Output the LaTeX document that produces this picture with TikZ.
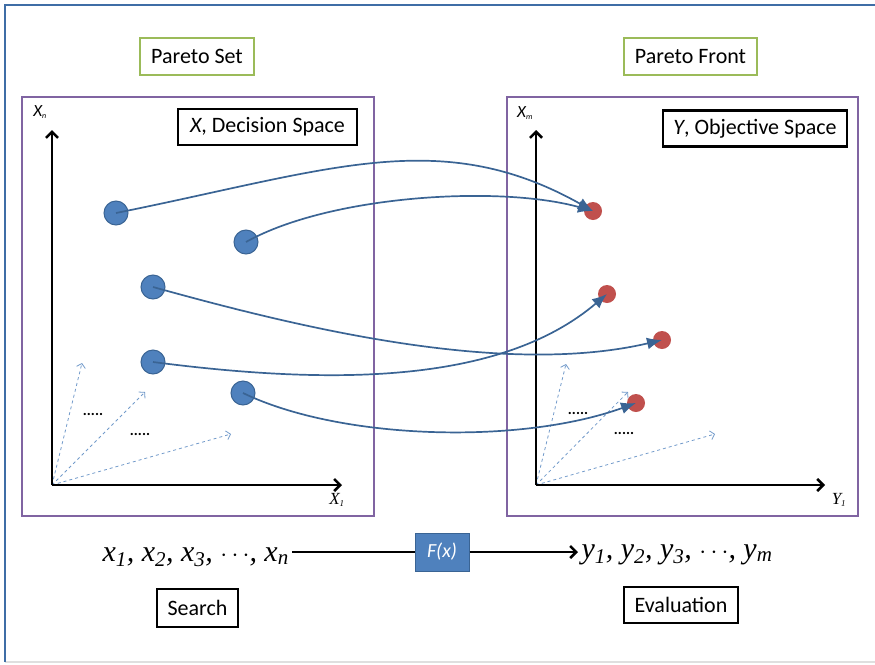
\documentclass[tikz,border=0pt]{standalone}
\usepackage{fontspec}
\setmainfont{Carlito}
\newfontfamily\timesfont{Liberation Serif}
\usetikzlibrary{arrows.meta}
\definecolor{office}{HTML}{4F81BD}
\definecolor{officedark}{HTML}{3A6494}
\definecolor{redpt}{HTML}{C0504D}
\definecolor{purp}{HTML}{8064A2}
\definecolor{grn}{HTML}{9BBB59}
\definecolor{framec}{HTML}{3F6DA6}
\begin{document}
\begin{tikzpicture}[x=1pt,y=-1pt,
  every node/.style={font=\fontsize{22}{26}\selectfont},
  labelbox/.style={draw=grn, line width=1.8pt, minimum height=37pt, inner sep=0pt},
  spacebox/.style={draw=black, line width=2.2pt, minimum height=36pt, inner sep=0pt},
  ptx/.style={circle, fill=office, draw=officedark, line width=1pt, minimum size=24pt, inner sep=0pt},
  pty/.style={circle, fill=redpt, minimum size=18pt, inner sep=0pt},
  axis/.style={line width=2.6pt, -{Straight Barb[length=6pt,width=12pt]}},
  map/.style={officedark, line width=1.7pt, -{Latex[length=15pt,width=12pt]}},
  ray/.style={office!80, dashed, line width=0.8pt, -{Straight Barb[length=4pt,width=9pt]}},
  dots/.style={font=\fontsize{15}{18}\selectfont\bfseries},
  axlabel/.style={font=\fontsize{17}{20}\selectfont\itshape},
  listtext/.style={anchor=base west, font=\fontsize{30}{34}\selectfont\timesfont\itshape}]
\useasboundingbox (0,0) rectangle (875,664);
\draw[gray!25, line width=2pt] (5,662) -- (875,662);
\draw[framec, line width=2pt] (5,662) -- (5,5) -- (875,5);

\draw[purp, line width=1.8pt] (22,97) rectangle (374,516);
\draw[purp, line width=1.8pt] (507,97) rectangle (858,516);

\node[labelbox, minimum width=114pt] (pset) at (197,56.5) {Pareto Set};
\node[labelbox, minimum width=133pt] (pfront) at (690.5,56.5) {Pareto Front};
\node[spacebox, minimum width=179pt] (xspace) at (267.5,127) {\textit{X}, Decision Space};
\node[spacebox, minimum width=184pt] (yspace) at (755,128.5) {\textit{Y}, Objective Space};

\coordinate (lo) at (52,485);
\coordinate (ltop) at (52,130);
\coordinate (lright) at (342,485);
\coordinate (ro) at (536,485);
\coordinate (rtop) at (536,130);
\coordinate (rright) at (825,485);

\draw[ray] (lo) -- (82,363);
\draw[ray] (lo) -- (145,392);
\draw[ray] (lo) -- (231,434);
\draw[ray] (ro) -- (566,364);
\draw[ray] (ro) -- (628,392);
\draw[ray] (ro) -- (715,434);

\draw[axis] (lo) -- (ltop);
\draw[axis] (lo) -- (lright);
\draw[axis] (ro) -- (rtop);
\draw[axis] (ro) -- (rright);

\node[axlabel] (xn) at (40,112) {X\textsubscript{\fontsize{8}{9}\selectfont n}};
\node[axlabel] (xm) at (525,113) {X\textsubscript{\fontsize{8}{9}\selectfont m}};
\node[axlabel, font=\fontsize{17}{20}\selectfont\timesfont\itshape] (x1) at (337,500) {X\textsubscript{\fontsize{9}{10}\selectfont 1}};
\node[axlabel, font=\fontsize{17}{20}\selectfont\timesfont\itshape] (y1) at (839,500) {Y\textsubscript{\fontsize{9}{10}\selectfont 1}};

\node[dots] (d1) at (93,414) {.....};
\node[dots] (d2) at (140,434) {.....};
\node[dots] (d3) at (578,413) {.....};
\node[dots] (d4) at (624,433) {.....};

\node[ptx] (p1) at (116,213) {};
\node[ptx] (p2) at (246,242) {};
\node[ptx] (p3) at (153,287) {};
\node[ptx] (p4) at (153,362) {};
\node[ptx] (p5) at (243,393) {};

\node[pty] (q1) at (593,211) {};
\node[pty] (q2) at (607,294) {};
\node[pty] (q3) at (662,340) {};
\node[pty] (q4) at (636,403) {};

\draw[map] (p1.center) .. controls (330,170) and (440,125) .. (q1.center);
\draw[map] (p2.center) .. controls (330,195) and (500,185) .. (q1.center);
\draw[map] (p3.center) .. controls (290,325) and (500,378) .. (q3.center);
\draw[map] (p4.center) .. controls (330,385) and (500,385) .. (q2.center);
\draw[map] (p5.center) .. controls (340,440) and (520,445) .. (q4.center);

\node[listtext] (xlist) at (99,561)
  {x\textsubscript{1}, x\textsubscript{2}, x\textsubscript{3}, $\cdots$, x\textsubscript{n}};
\node[listtext] (ylist) at (578,558)
  {y\textsubscript{1}, y\textsubscript{2}, y\textsubscript{3}, $\cdots$, y\textsubscript{m}};
\node[fill=office, draw=officedark, line width=1pt, minimum width=54pt, minimum height=38pt,
  inner sep=0pt, text=white, font=\fontsize{20}{24}\selectfont\itshape] (fx) at (442,552) {F(x)};

\draw[line width=2.6pt] (xlist.east |- fx.west) -- (fx.west);
\draw[axis] (fx.east) -- (fx.east -| ylist.west);

\node[spacebox, minimum width=81pt, minimum height=38pt] (search) at (197.5,608) {Search};
\node[spacebox, minimum width=114pt] (evalbox) at (681,605) {Evaluation};
\end{tikzpicture}
\end{document}
